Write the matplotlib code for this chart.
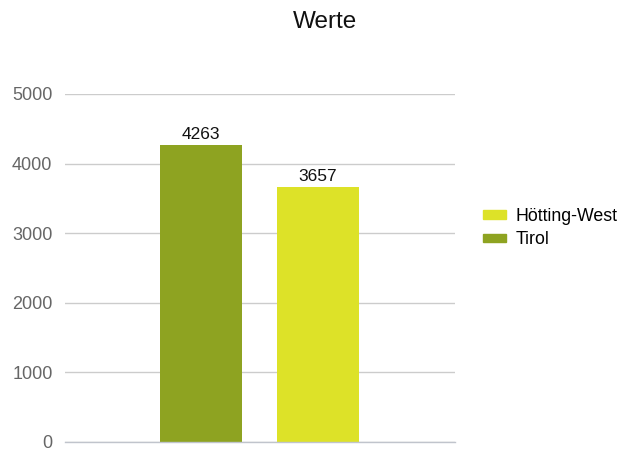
import matplotlib
matplotlib.use("Agg")
import matplotlib.pyplot as plt
from matplotlib.patches import Patch

plt.rcParams['font.family'] = ['Liberation Sans', 'DejaVu Sans']

title = "Werte"
series = ["Tirol", "Hötting-West"]
values = [4263, 3657]
colors = ["#8ea321", "#dde228"]
yticks = [0, 1000, 2000, 3000, 4000, 5000]

fig = plt.figure(figsize=(6.37, 4.5), dpi=100)
ax = fig.add_axes([65/637, 8/450, 390/637, 348/450])

xs = list(range(len(series)))
bars = ax.bar(xs, values, width=0.70, color=colors, zorder=3)
for x, v in zip(xs, values):
    ax.text(x, v + 50, str(v), ha='center', va='bottom', fontsize=12.5, color='#111111', clip_on=False)

ax.set_xlim(-1.162, 2.171)
ax.set_ylim(0, 5000)
ax.set_yticks(yticks)
ax.set_yticklabels([str(t) for t in yticks])
ax.set_xticks([])
ax.tick_params(axis='y', length=0, pad=9, labelsize=13, labelcolor='#666666')
ax.grid(axis='y', color='#cccccc', linewidth=1, zorder=0)
for s in ['top', 'right', 'left']:
    ax.spines[s].set_visible(False)
ax.spines['bottom'].set_color('#c0c4cc')
ax.spines['bottom'].set_linewidth(1)
ax.spines['bottom'].set_zorder(4)

fig.text(325/637, 1 - 22/450, title, ha='center', va='center', fontsize=17.5, color='#111111')

handles = [Patch(color=colors[1], label=series[1]), Patch(color=colors[0], label=series[0])]
fig.legend(handles=handles, loc='center left', bbox_to_anchor=(483/637, 1 - 228/450),
           frameon=False, fontsize=12.8, handlelength=1.3, handleheight=0.35,
           handletextpad=0.55, labelspacing=0.35, borderaxespad=0, borderpad=0)

fig.savefig("out.png", dpi=100)
